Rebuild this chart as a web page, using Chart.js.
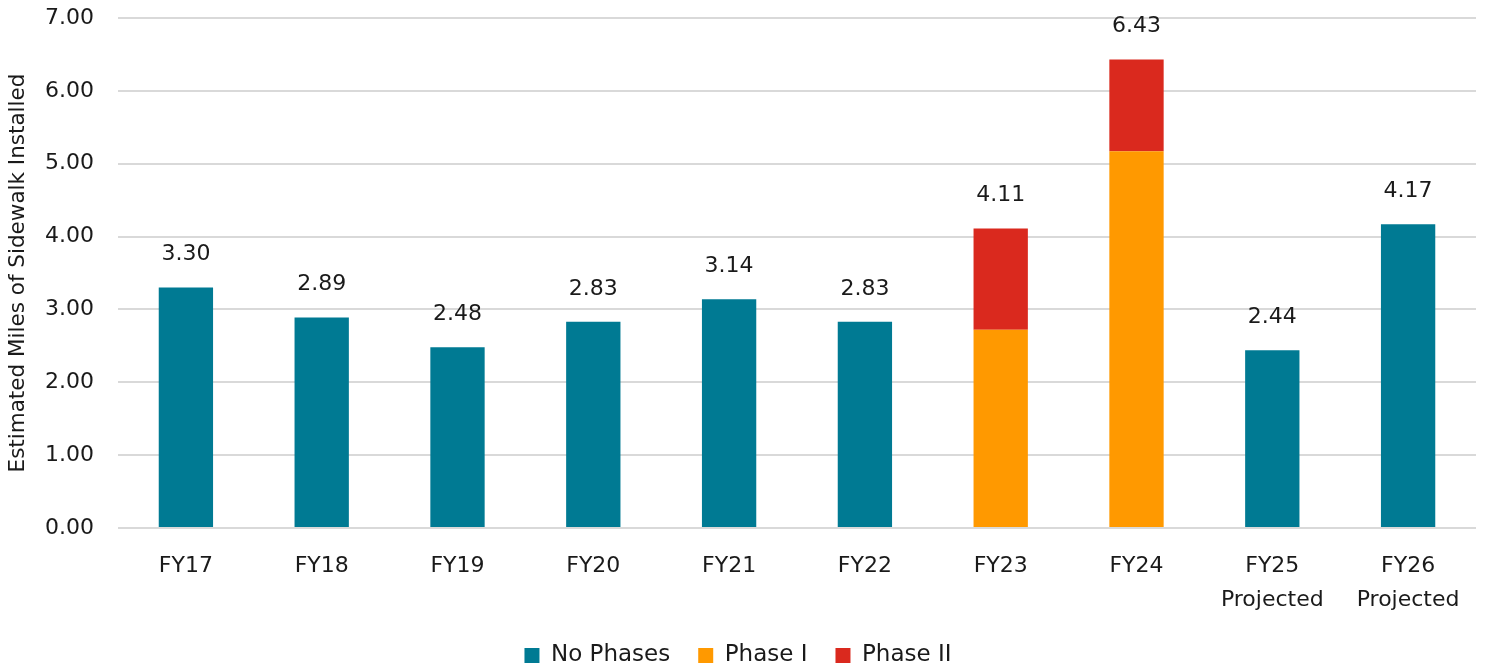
<!DOCTYPE html>
<html>
<head>
<meta charset="utf-8">
<script src="https://cdn.jsdelivr.net/npm/chart.js@4/dist/chart.umd.min.js"></script>
<style>
  html, body { margin: 0; padding: 0; background: #ffffff; }
  #wrap { width: 1488px; height: 669px; position: relative; }
</style>
</head>
<body>
<div id="wrap"><canvas id="chart"></canvas></div>
<script>
// Fiscal years (multi-line where a year is a projection)
const categories = ["FY17", "FY18", "FY19", "FY20", "FY21", "FY22", "FY23", "FY24", ["FY25", "Projected"], ["FY26", "Projected"]];

// Miles of sidewalk installed, split by program phase
const noPhases = [3.30, 2.89, 2.48, 2.83, 3.14, 2.83, null, null, 2.44, 4.17];
const phaseI   = [null, null, null, null, null, null, 2.72, 5.17, null, null];
const phaseII  = [null, null, null, null, null, null, 1.39, 1.26, null, null];

const yTicks = { min: 0, max: 7, step: 1 };
const yTitle = "Estimated Miles of Sidewalk Installed";

const FONT = "'DejaVu Sans', sans-serif";
const TEXT = "#1a1a1a";

// Writes the stacked total above each bar
const totalsPlugin = {
  id: 'totals',
  afterDatasetsDraw(chart) {
    const { ctx, scales: { x, y } } = chart;
    ctx.save();
    ctx.font = "22px " + FONT;
    ctx.fillStyle = TEXT;
    ctx.textAlign = 'center';
    ctx.textBaseline = 'middle';
    categories.forEach((c, i) => {
      const total = [noPhases, phaseI, phaseII].reduce((s, arr) => s + (arr[i] || 0), 0);
      if (!total) return;
      ctx.fillText(total.toFixed(2), x.getPixelForValue(i), y.getPixelForValue(total) - 33);
    });
    ctx.restore();
  }
};

new Chart(document.getElementById('chart'), {
  type: 'bar',
  data: {
    labels: categories,
    datasets: [
      { label: 'No Phases', data: noPhases, backgroundColor: '#007a93' },
      { label: 'Phase I', data: phaseI, backgroundColor: '#ff9900' },
      { label: 'Phase II', data: phaseII, backgroundColor: '#da291e' }
    ]
  },
  options: {
    responsive: true,
    maintainAspectRatio: false,
    animation: false,
    layout: { padding: { top: 0, right: 12, bottom: -8, left: 0 } },
    datasets: { bar: { categoryPercentage: 1.0, barPercentage: 0.4, skipNull: false } },
    scales: {
      x: {
        stacked: true,
        grid: { display: false, drawTicks: false },
        border: { display: false },
        ticks: { color: TEXT, font: { family: FONT, size: 22, lineHeight: 1.55 }, padding: 21, maxRotation: 0, autoSkip: false },
        afterFit(scale) { scale.height = 88; }
      },
      y: {
        stacked: true,
        min: yTicks.min,
        max: yTicks.max,
        ticks: {
          stepSize: yTicks.step,
          color: TEXT,
          font: { family: FONT, size: 22 },
          padding: 24,
          callback: v => Number(v).toFixed(2)
        },
        grid: { color: '#d9d9d9', lineWidth: 2, drawTicks: false },
        border: { display: false },
        title: { display: true, text: yTitle, color: TEXT, font: { family: FONT, size: 21.5 }, padding: { top: 6, bottom: 0 } },
        afterFit(scale) {
          scale.width = 118;
          scale.paddingTop = 18;
          scale.paddingBottom = 0;
        }
      }
    },
    plugins: {
      legend: {
        position: 'bottom',
        labels: { boxWidth: 15, boxHeight: 15, padding: 28, color: TEXT, font: { family: FONT, size: 23 } }
      },
      tooltip: { enabled: false }
    }
  },
  plugins: [totalsPlugin]
});
</script>
</body>
</html>
